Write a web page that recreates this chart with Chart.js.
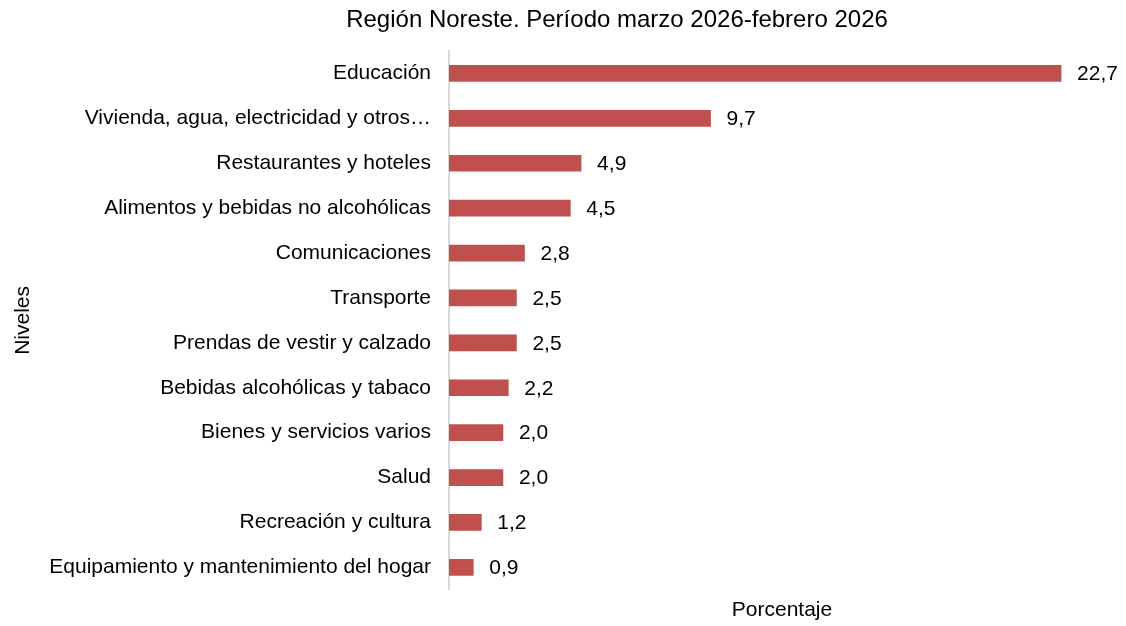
<!DOCTYPE html>
<html>
<head>
<meta charset="utf-8">
<script src="https://cdn.jsdelivr.net/npm/chart.js@4/dist/chart.umd.min.js"></script>
<style>
  html, body { margin: 0; padding: 0; background: #fff; }
  #wrap { width: 1126px; height: 626px; position: relative; }
</style>
</head>
<body>
<div id="wrap"><canvas id="chart"></canvas></div>
<script>
// Categories and values
const categories = [
  'Educación',
  'Vivienda, agua, electricidad y otros…',
  'Restaurantes y hoteles',
  'Alimentos y bebidas no alcohólicas',
  'Comunicaciones',
  'Transporte',
  'Prendas de vestir y calzado',
  'Bebidas alcohólicas y tabaco',
  'Bienes y servicios varios',
  'Salud',
  'Recreación y cultura',
  'Equipamiento y mantenimiento del hogar'
];
const values = [22.7, 9.7, 4.9, 4.5, 2.8, 2.5, 2.5, 2.2, 2.0, 2.0, 1.2, 0.9];

const titleText = 'Región Noreste. Período marzo 2026-febrero 2026';
const xTitle = 'Porcentaje';
const yTitle = 'Niveles';

const FONT = '"Liberation Sans", Arial, Helvetica, sans-serif';

// Draw value labels to the right of each bar (comma decimal)
const valueLabels = {
  id: 'valueLabels',
  afterDatasetsDraw(chart) {
    const ctx = chart.ctx;
    const meta = chart.getDatasetMeta(0);
    ctx.save();
    ctx.font = '21px ' + FONT;
    ctx.fillStyle = '#000';
    ctx.textAlign = 'left';
    ctx.textBaseline = 'middle';
    meta.data.forEach((bar, i) => {
      const txt = values[i].toFixed(1).replace('.', ',');
      ctx.fillText(txt, bar.x + 16, bar.y + 1);
    });
    ctx.restore();
  }
};

// The original title sits off-centre (centred at about x=617)
const offsetTitle = {
  id: 'offsetTitle',
  afterDraw(chart) {
    const ctx = chart.ctx;
    ctx.save();
    ctx.font = '24px ' + FONT;
    ctx.fillStyle = '#000';
    ctx.textAlign = 'center';
    ctx.textBaseline = 'middle';
    ctx.fillText(titleText, 617, 20);
    ctx.restore();
  }
};

new Chart(document.getElementById('chart'), {
  type: 'bar',
  data: {
    labels: categories,
    datasets: [{
      data: values,
      backgroundColor: '#c0504d',
      borderWidth: 0,
      barThickness: 16
    }]
  },
  options: {
    indexAxis: 'y',
    responsive: true,
    maintainAspectRatio: false,
    animation: false,
    layout: { padding: { left: 0, right: 11, top: 51, bottom: 0 } },
    plugins: {
      legend: { display: false },
      tooltip: { enabled: false },
      title: { display: false }
    },
    scales: {
      x: {
        min: 0,
        max: 24.7,
        ticks: { display: false },
        grid: { display: false, drawTicks: false },
        border: { display: false },
        title: {
          display: true,
          text: xTitle,
          color: '#000',
          font: { family: FONT, size: 21 },
          padding: { top: 8, bottom: 3 }
        }
      },
      y: {
        grid: { display: false, drawTicks: false },
        border: { display: true, color: '#d9d9d9', width: 2 },
        ticks: {
          color: '#000',
          font: { family: FONT, size: 21 },
          padding: 18,
          autoSkip: false
        },
        title: {
          display: true,
          text: yTitle,
          color: '#000',
          font: { family: FONT, size: 21 },
          padding: { top: 11, bottom: 4 }
        },
        afterFit(scale) { scale.width = 449; }
      }
    }
  },
  plugins: [valueLabels, offsetTitle]
});
</script>
</body>
</html>
